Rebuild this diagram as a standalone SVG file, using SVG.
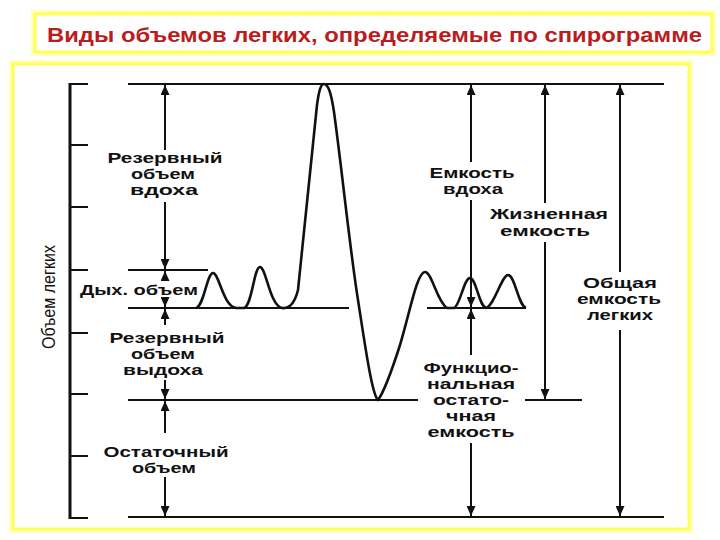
<svg xmlns="http://www.w3.org/2000/svg" width="720" height="540" viewBox="0 0 720 540">
<style>
.frame{fill:#ffffff;stroke:#ffff55;stroke-width:3}
.glow{fill:none;stroke:#ffffc0;stroke-width:8}
.title{font-family:"Liberation Sans",Arial,sans-serif;font-weight:bold;font-size:21px;fill:#bb1c1c}
.lbl{font-family:"Liberation Sans",Arial,sans-serif;font-weight:bold;font-size:14px;fill:#111;text-anchor:middle}
.ax{font-family:"Liberation Sans Narrow","Liberation Sans",Arial,sans-serif;font-size:19px;fill:#111;text-anchor:middle}
.ln{stroke:#111;stroke-width:2;fill:none}
.axis{stroke:#111;stroke-width:3;fill:none}
.arr{stroke:#111;stroke-width:2;fill:none;marker-end:url(#ah)}
.curve{stroke:#111;stroke-width:2.6;fill:none;stroke-linejoin:round}
</style>
<defs>
<marker id="ah" viewBox="0 0 10 9" refX="10" refY="4.5" markerWidth="10" markerHeight="9" markerUnits="userSpaceOnUse" orient="auto">
<path d="M0,0 L10,4.5 L0,9 Z" fill="#111"/>
</marker>
</defs>
<rect width="720" height="540" fill="#ffffff"/>
<g id="title-box">
<rect class="glow" x="35" y="14" width="677" height="38"/>
<rect class="frame" x="35" y="14" width="677" height="38"/>
<text class="title" x="47" y="42" textLength="655" lengthAdjust="spacingAndGlyphs">Виды объемов легких, определяемые по спирограмме</text>
</g>
<g id="chart-frame">
<rect class="glow" x="13" y="64" width="676" height="465"/>
<rect class="frame" x="13" y="64" width="676" height="465"/>
</g>
<g id="axis">
<line class="axis" x1="70" y1="83" x2="70" y2="519"/>
<path class="ln" d="M70,84H88 M70,145H88 M70,207H88 M70,270H88 M70,333H88 M70,394H88 M70,456H88 M70,518H88"/>
<text class="ax" transform="translate(55,297) rotate(-90)" textLength="104" lengthAdjust="spacingAndGlyphs">Объем легких</text>
</g>
<g id="levels">
<path class="ln" d="M128,84H664 M128,270H208 M128,308H349 M427,308H526 M128,400H418 M525,400H582 M128,517H664"/>
</g>
<g id="spirogram">
<path class="curve" d="M196,308 C204,306 207,273 213,273 C219,273 223,306 236,308 L244,308 C252,306 254,267 260,267 C266,267 270,306 282,308 C290,309 295,302 298,290 L317,105 C319,90 321,84 324,84 C328,84 331,92 334,112 C342,170 350,250 358,300 C365,345 372,395 378,400 C384,392 392,370 400,345 C410,312 417,272 425,272 C432,272 437,302 447,308 L454,308 C460,306 464,278 470,278 C476,278 479,306 486,308 C494,306 502,275 508,275 C515,275 518,305 526,308"/>
</g>
<g id="connectors">
<line class="arr" x1="165" y1="150" x2="165" y2="85"/>
<line class="arr" x1="165" y1="202" x2="165" y2="269"/>
<line class="arr" x1="165" y1="281" x2="165" y2="271"/>
<line class="arr" x1="165" y1="297" x2="165" y2="307"/>
<line class="arr" x1="165" y1="325" x2="165" y2="309"/>
<line class="arr" x1="165" y1="380" x2="165" y2="399"/>
<line class="arr" x1="165" y1="433" x2="165" y2="401"/>
<line class="arr" x1="165" y1="477" x2="165" y2="516"/>
<line class="arr" x1="471" y1="162" x2="471" y2="85"/>
<line class="arr" x1="471" y1="200" x2="471" y2="307"/>
<line class="arr" x1="471" y1="355" x2="471" y2="309"/>
<line class="arr" x1="471" y1="443" x2="471" y2="516"/>
<line class="arr" x1="545" y1="203" x2="545" y2="85"/>
<line class="arr" x1="545" y1="242" x2="545" y2="399"/>
<line class="arr" x1="620" y1="272" x2="620" y2="85"/>
<line class="arr" x1="620" y1="330" x2="620" y2="516"/>
</g>
<g id="irv">
<text class="lbl" x="165" y="163" textLength="115" lengthAdjust="spacingAndGlyphs">Резервный</text>
<text class="lbl" x="163" y="179" textLength="64" lengthAdjust="spacingAndGlyphs">объем</text>
<text class="lbl" x="164" y="195" textLength="68" lengthAdjust="spacingAndGlyphs">вдоха</text>
</g>
<g id="tv">
<text class="lbl" x="139" y="295" textLength="118" lengthAdjust="spacingAndGlyphs">Дых. объем</text>
</g>
<g id="erv">
<text class="lbl" x="167" y="343" textLength="115" lengthAdjust="spacingAndGlyphs">Резервный</text>
<text class="lbl" x="163" y="359" textLength="64" lengthAdjust="spacingAndGlyphs">объем</text>
<text class="lbl" x="163" y="375" textLength="80" lengthAdjust="spacingAndGlyphs">выдоха</text>
</g>
<g id="rv">
<text class="lbl" x="166" y="457" textLength="125" lengthAdjust="spacingAndGlyphs">Остаточный</text>
<text class="lbl" x="164" y="473" textLength="64" lengthAdjust="spacingAndGlyphs">объем</text>
</g>
<g id="ic">
<text class="lbl" x="472" y="178" textLength="85" lengthAdjust="spacingAndGlyphs">Емкость</text>
<text class="lbl" x="473" y="194" textLength="60" lengthAdjust="spacingAndGlyphs">вдоха</text>
</g>
<g id="vc">
<text class="lbl" x="549" y="219" textLength="118" lengthAdjust="spacingAndGlyphs">Жизненная</text>
<text class="lbl" x="545" y="236" textLength="90" lengthAdjust="spacingAndGlyphs">емкость</text>
</g>
<g id="tlc">
<text class="lbl" x="620" y="288" textLength="74" lengthAdjust="spacingAndGlyphs">Общая</text>
<text class="lbl" x="619" y="304" textLength="84" lengthAdjust="spacingAndGlyphs">емкость</text>
<text class="lbl" x="620" y="320" textLength="66" lengthAdjust="spacingAndGlyphs">легких</text>
</g>
<g id="frc">
<text class="lbl" x="471" y="373" textLength="95" lengthAdjust="spacingAndGlyphs">Функцио-</text>
<text class="lbl" x="471" y="389" textLength="88" lengthAdjust="spacingAndGlyphs">нальная</text>
<text class="lbl" x="471" y="405" textLength="76" lengthAdjust="spacingAndGlyphs">остато-</text>
<text class="lbl" x="471" y="421" textLength="50" lengthAdjust="spacingAndGlyphs">чная</text>
<text class="lbl" x="471" y="437" textLength="87" lengthAdjust="spacingAndGlyphs">емкость</text>
</g>
</svg>
